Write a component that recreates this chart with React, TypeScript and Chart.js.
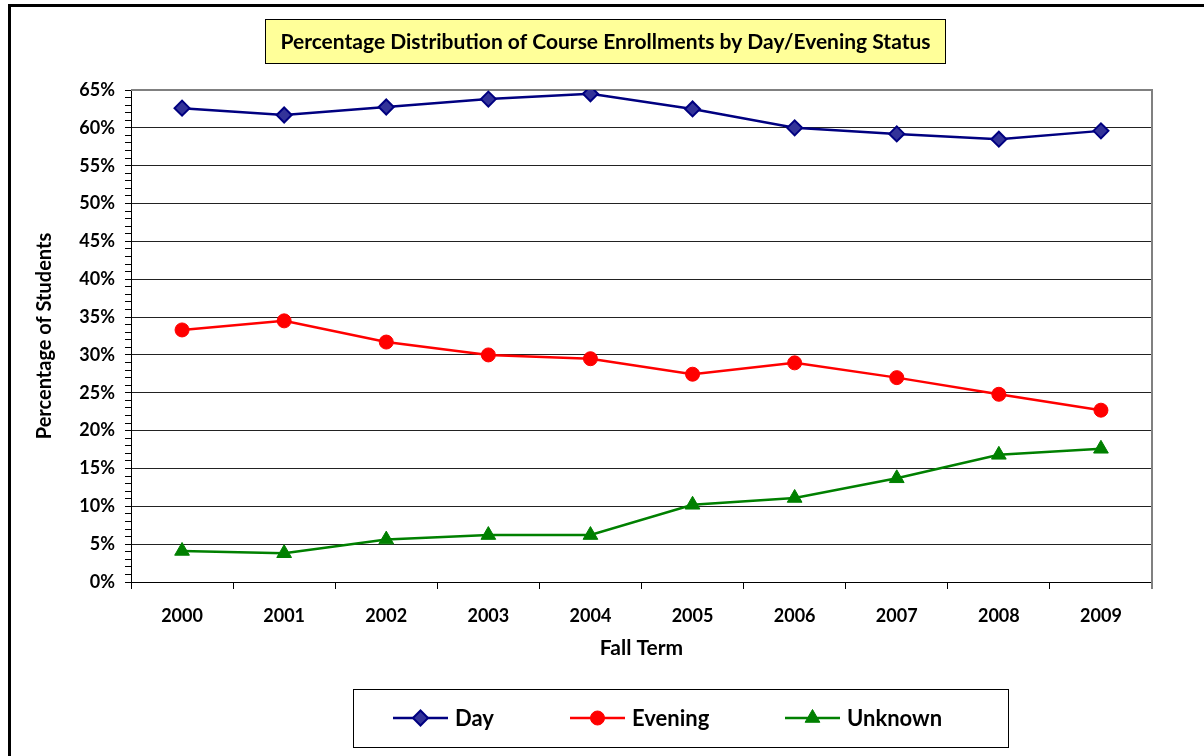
import React, { useEffect, useRef } from 'react';
import { Chart, registerables } from 'chart.js';
import { drawPoint } from 'chart.js/helpers';

Chart.register(...registerables);

const chartTitle = 'Percentage Distribution of Course Enrollments by Day/Evening Status';
const xAxisTitle = 'Fall Term';
const yAxisTitle = 'Percentage of Students';

const years = ['2000', '2001', '2002', '2003', '2004', '2005', '2006', '2007', '2008', '2009'];
const dayValues = [62.6, 61.7, 62.75, 63.8, 64.5, 62.5, 60.0, 59.2, 58.5, 59.6];
const eveningValues = [33.3, 34.5, 31.7, 30.0, 29.5, 27.45, 28.95, 27.0, 24.8, 22.7];
const unknownValues = [4.1, 3.8, 5.6, 6.2, 6.2, 10.2, 11.1, 13.7, 16.8, 17.6];
const seriesNames = ['Day', 'Evening', 'Unknown'];

const yMin = 0;
const yMax = 65;
const yMajorStep = 5;
const yMinorStep = 1;

const FONT = 'Lato, "Open Sans", "DejaVu Sans", sans-serif';

const seriesStyles = [
  { line: '#000080', fill: '#333399', border: '#000080', pointStyle: 'rectRot', radius: 7.5, borderWidth: 2 },
  { line: '#FF0000', fill: '#FF0000', border: '#FF0000', pointStyle: 'circle', radius: 7, borderWidth: 1 },
  { line: '#008000', fill: '#008000', border: '#008000', pointStyle: 'triangle', radius: 8.5, borderWidth: 1 },
];

const decorPlugin = {
  id: 'decor',
  beforeDraw(chart: any) {
    const ctx = chart.ctx;
    ctx.save();
    ctx.fillStyle = '#ffffff';
    ctx.fillRect(0, 0, chart.width, chart.height);
    // outer frame
    ctx.strokeStyle = '#000000';
    ctx.lineWidth = 3;
    ctx.strokeRect(9.5, 5.5, chart.width + 40, chart.height + 40);
    // title box
    ctx.fillStyle = '#FFFF99';
    ctx.fillRect(265.5, 19.5, 680, 44);
    ctx.strokeStyle = '#000000';
    ctx.lineWidth = 1;
    ctx.strokeRect(265.5, 19.5, 680, 44);
    ctx.fillStyle = '#000000';
    ctx.font = `bold 21px ${FONT}`;
    ctx.textAlign = 'center';
    ctx.textBaseline = 'middle';
    ctx.fillText(chartTitle, 605.5, 42);
    ctx.restore();
  },
  beforeDatasetsDraw(chart: any) {
    const { ctx, chartArea } = chart;
    ctx.save();
    ctx.strokeStyle = '#808080';
    ctx.lineWidth = 2;
    ctx.beginPath();
    ctx.moveTo(chartArea.left, chartArea.top);
    ctx.lineTo(chartArea.right, chartArea.top);
    ctx.lineTo(chartArea.right, chartArea.bottom + 7);
    ctx.stroke();
    ctx.restore();
  },
  afterDraw(chart: any) {
    const ctx = chart.ctx;
    ctx.save();
    ctx.fillStyle = '#ffffff';
    ctx.fillRect(353.5, 689.5, 655, 58);
    ctx.strokeStyle = '#000000';
    ctx.lineWidth = 1;
    ctx.strokeRect(353.5, 689.5, 655, 58);
    const starts = [393, 570, 785];
    const y = 718;
    chart.data.datasets.forEach((ds: any, i: number) => {
      const st = seriesStyles[i];
      const x0 = starts[i];
      ctx.strokeStyle = st.line;
      ctx.lineWidth = 2.5;
      ctx.beginPath();
      ctx.moveTo(x0, y);
      ctx.lineTo(x0 + 55, y);
      ctx.stroke();
      ctx.fillStyle = st.fill;
      ctx.strokeStyle = st.border;
      ctx.lineWidth = st.borderWidth;
      drawPoint(ctx, { pointStyle: st.pointStyle, radius: st.radius, rotation: 0, borderWidth: st.borderWidth } as any, x0 + 27.5, y);
      ctx.fillStyle = '#000000';
      ctx.font = `bold 22px ${FONT}`;
      ctx.textAlign = 'left';
      ctx.textBaseline = 'middle';
      ctx.fillText(ds.label, x0 + 62, y + 1);
    });
    ctx.restore();
  },
};

export default function App() {
  const ref = useRef<HTMLCanvasElement | null>(null);
  useEffect(() => {
    if (!ref.current) return;
    const valueSets = [dayValues, eveningValues, unknownValues];
    const chart = new Chart(ref.current, {
      type: 'line',
      data: {
        labels: years,
        datasets: seriesNames.map((name, i) => ({
          label: name,
          data: valueSets[i],
          borderColor: seriesStyles[i].line,
          backgroundColor: seriesStyles[i].fill,
          borderWidth: 2.5,
          pointStyle: seriesStyles[i].pointStyle as any,
          pointRadius: seriesStyles[i].radius,
          pointBorderWidth: seriesStyles[i].borderWidth,
          pointBackgroundColor: seriesStyles[i].fill,
          pointBorderColor: seriesStyles[i].border,
          tension: 0,
          fill: false,
        })),
      },
      options: {
        animation: false,
        responsive: false,
        devicePixelRatio: 1,
        layout: { padding: { left: 0, right: 52, top: 90, bottom: 91 } },
        plugins: {
          legend: { display: false },
          title: { display: false },
          tooltip: { enabled: false },
        },
        scales: {
          x: {
            type: 'category',
            offset: true,
            grid: {
              display: true,
              offset: true,
              drawOnChartArea: false,
              drawTicks: true,
              tickLength: 7,
              tickColor: '#000000',
              color: '#000000',
            },
            border: { display: true, color: '#000000', width: 1 },
            ticks: {
              color: '#000000',
              font: { family: FONT, size: 18, weight: 'bold' },
              padding: 16,
              maxRotation: 0,
            },
            title: {
              display: true,
              text: xAxisTitle,
              color: '#000000',
              font: { family: FONT, size: 21, weight: 'bold' },
              padding: { top: 4, bottom: 4 },
            },
            afterFit(scale: any) {
              scale.height = 83;
            },
          },
          y: {
            type: 'linear',
            min: yMin,
            max: yMax,
            grid: {
              color: (c: any) => (c.tick && c.tick.value % yMajorStep === 0 ? '#222222' : 'rgba(0,0,0,0)'),
              tickColor: '#000000',
              tickLength: 6,
              lineWidth: 1,
            },
            border: { display: true, color: '#000000', width: 1 },
            ticks: {
              stepSize: yMinorStep,
              autoSkip: false,
              maxTicksLimit: 200,
              color: '#000000',
              font: { family: FONT, size: 18, weight: 'bold' },
              padding: 10,
              callback: (v: any) => (Number(v) % yMajorStep === 0 ? `${v}%` : ''),
            },
            title: {
              display: true,
              text: yAxisTitle,
              color: '#000000',
              font: { family: FONT, size: 20, weight: 'bold' },
              padding: { top: 33, bottom: 0 },
            },
            afterFit(scale: any) {
              scale.width = 131;
            },
          },
        },
      },
      plugins: [decorPlugin],
    });
    return () => chart.destroy();
  }, []);
  return (
    <div style={{ position: 'fixed', left: 0, top: 0, width: 1204, height: 756, background: '#fff' }}>
      <canvas ref={ref} width={1204} height={756} style={{ width: 1204, height: 756, display: 'block' }} />
    </div>
  );
}
